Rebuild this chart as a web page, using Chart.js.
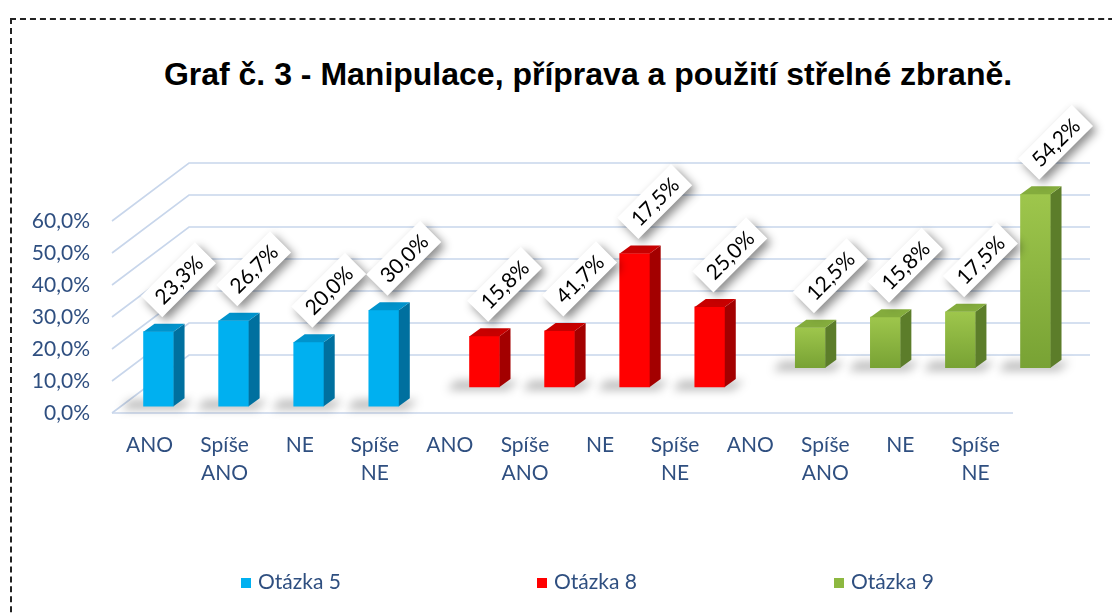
<!DOCTYPE html>
<html>
<head>
<meta charset="utf-8">
<title>Graf č. 3</title>
<script src="https://cdn.jsdelivr.net/npm/chart.js@4.4.1/dist/chart.umd.min.js"></script>
<style>
  html, body { margin: 0; padding: 0; background: #fff; overflow: hidden; }
  #wrap { position: relative; width: 1112px; height: 613px; overflow: hidden; }
  #frame { position: absolute; left: 10px; top: 18px; width: 1200px; height: 700px; border: 2px dashed #222; }
  #title { position: absolute; left: 0; width: 1176px; top: 56px; line-height: 32px; text-align: center;
           font: bold 32px "Liberation Sans", Arial, sans-serif; color: #000; white-space: nowrap; }
  canvas { position: absolute; left: 0; top: 0; }
  .leg { position: absolute; top: 568px; line-height: 24px; font: 21px Lato, sans-serif; color: #2F4F80; white-space: nowrap; }
  .leg i { display: inline-block; width: 10px; height: 10px; margin-right: 7px; vertical-align: 1px; }
</style>
</head>
<body>
<div id="wrap">
  <div id="frame"></div>
  <div id="title">Graf č. 3 - Manipulace, příprava a použití střelné zbraně.</div>
  <canvas id="chart3" width="1112" height="613"></canvas>
</div>
<script>
// data
const categories = ['ANO', 'Spíše ANO', 'NE', 'Spíše NE', 'ANO', 'Spíše ANO', 'NE', 'Spíše NE', 'ANO', 'Spíše ANO', 'NE', 'Spíše NE'];
const seriesNames = ['Otázka 5', 'Otázka 8', 'Otázka 9'];
const q5Values = [23.3, 26.7, 20.0, 30.0];
const q8Values = [15.8, 17.5, 41.7, 25.0];
const q9Values = [12.5, 15.8, 17.5, 54.2];
// data labels as printed on the chart
const q5Labels = ['23,3%', '26,7%', '20,0%', '30,0%'];
const q8Labels = ['15,8%', '41,7%', '17,5%', '25,0%'];
const q9Labels = ['12,5%', '15,8%', '17,5%', '54,2%'];
const yTickValues = [0, 10, 20, 30, 40, 50, 60];

const seriesValues = [q5Values, q8Values, q9Values];
const seriesLabels = [q5Labels, q8Labels, q9Labels];

// look & 3d geometry
const TICK_COLOR = '#2F4F80';
const PLOT_W = 901, PLOT_H = 192;          // front plane of the plot
const WALL_DX = 77, WALL_DY = 58;          // depth of the back wall
const depthFrac = [0.117, 0.45, 0.78];     // where each series stands in depth
const BAR_DX = 11, BAR_DY = 8;             // bar's own depth
const binW = PLOT_W / categories.length;
const pxPerUnit = PLOT_H / (yTickValues[yTickValues.length - 1] - yTickValues[0]);

const styles = [
  { front: '#00B0F0', side: '#00709F', top: '#0093CC' },
  { front: '#FF0000', side: '#A30000', top: '#C80000' },
  { front: '#8DB840', side: '#5C7D2A', top: '#84AC3D' }
];
const axisIds = [['xb', 'yb'], ['xr', 'yr'], ['xg', 'yg']];

function greenFront(c) {
  const chart = c.chart;
  if (!chart.chartArea || !c.parsed) return styles[2].front;
  const ys = chart.scales.yg;
  const top = ys.getPixelForValue(c.parsed.y);
  const base = ys.getPixelForValue(0);
  const g = chart.ctx.createLinearGradient(0, top, 0, base);
  g.addColorStop(0, '#9EC64C');
  g.addColorStop(1, '#78A234');
  return g;
}

const datasets = seriesValues.map((vals, s) => ({
  label: seriesNames[s],
  data: vals.map((v, i) => ({ x: s * 4 + i, y: v })),
  xAxisID: axisIds[s][0],
  yAxisID: axisIds[s][1],
  backgroundColor: s === 2 ? greenFront : styles[s].front,
  borderWidth: 0,
  barThickness: 30,
  grouped: false,
  clip: false
}));

// hidden scales that push each series back into depth
const scales = {
  x: {
    type: 'category',
    labels: categories,
    offset: true,
    grid: { display: false, drawTicks: false },
    border: { display: false },
    ticks: {
      autoSkip: false, maxRotation: 0, padding: 18, color: TICK_COLOR,
      font: { family: 'Lato', size: 21, lineHeight: 1.333 },
      callback: function (v) { return this.getLabelForValue(v).split(' '); }
    },
    afterFit: s => { s.height = 80; }
  },
  y: {
    type: 'linear',
    min: yTickValues[0],
    max: yTickValues[yTickValues.length - 1],
    grid: { display: false, drawTicks: false },
    border: { display: false },
    afterBuildTicks: s => { s.ticks = yTickValues.map(v => ({ value: v })); },
    ticks: {
      padding: 22, color: TICK_COLOR,
      font: { family: 'Lato', size: 21 },
      callback: v => v.toFixed(1).replace('.', ',') + '%'
    },
    afterFit: s => { s.width = 92; }
  }
};
depthFrac.forEach((f, s) => {
  const xMin = -0.5 - (f * WALL_DX) / binW;
  const yMin = -(f * WALL_DY) / pxPerUnit;
  scales[axisIds[s][0]] = { type: 'linear', display: false, offset: false, min: xMin, max: xMin + categories.length };
  scales[axisIds[s][1]] = { type: 'linear', display: false, min: yMin, max: yMin + scales.y.max - scales.y.min };
});

const depthPlugin = {
  id: 'depth3d',
  beforeDatasetsDraw(chart) {
    const { ctx, chartArea: a, scales: { y } } = chart;
    ctx.save();
    ctx.strokeStyle = '#C8D6EB';
    ctx.lineWidth = 1.6;
    y.ticks.forEach(t => {
      const py = y.getPixelForValue(t.value);
      ctx.beginPath();
      ctx.moveTo(a.left, py);
      ctx.lineTo(a.left + WALL_DX, py - WALL_DY);
      ctx.lineTo(a.right + WALL_DX, py - WALL_DY);
      ctx.stroke();
    });
    ctx.beginPath();
    ctx.moveTo(a.left, a.bottom);
    ctx.lineTo(a.right, a.bottom);
    ctx.stroke();
    ctx.restore();
  },
  beforeDatasetDraw(chart, args) {
    // soft shadow on the floor
    const ctx = chart.ctx;
    ctx.save();
    ctx.filter = 'blur(5px)';
    ctx.fillStyle = 'rgba(0,0,0,0.28)';
    args.meta.data.forEach(el => {
      const { x, base, width } = el.getProps(['x', 'base', 'width'], true);
      ctx.beginPath();
      ctx.moveTo(x - width / 2 - 22, base + 3);
      ctx.lineTo(x + width / 2 + 8, base + 3);
      ctx.lineTo(x + width / 2 + BAR_DX + 8, base - BAR_DY + 2);
      ctx.lineTo(x - width / 2 - 14, base - BAR_DY + 2);
      ctx.closePath();
      ctx.fill();
    });
    ctx.restore();
  },
  afterDatasetDraw(chart, args) {
    const ctx = chart.ctx;
    const st = styles[args.index];
    ctx.save();
    args.meta.data.forEach(el => {
      const { x, y, base, width } = el.getProps(['x', 'y', 'base', 'width'], true);
      const l = x - width / 2, r = x + width / 2;
      // side
      ctx.fillStyle = st.side;
      ctx.beginPath();
      ctx.moveTo(r, y);
      ctx.lineTo(r + BAR_DX, y - BAR_DY);
      ctx.lineTo(r + BAR_DX, base - BAR_DY);
      ctx.lineTo(r, base);
      ctx.closePath();
      ctx.fill();
      // top
      ctx.fillStyle = st.top;
      ctx.beginPath();
      ctx.moveTo(l, y);
      ctx.lineTo(l + BAR_DX, y - BAR_DY);
      ctx.lineTo(r + BAR_DX, y - BAR_DY);
      ctx.lineTo(r, y);
      ctx.closePath();
      ctx.fill();
    });
    ctx.restore();
  },
  afterDatasetsDraw(chart) {
    const ctx = chart.ctx;
    ctx.save();
    ctx.font = '21px Lato';
    ctx.textAlign = 'center';
    ctx.textBaseline = 'middle';
    seriesLabels.forEach((labels, s) => {
      chart.getDatasetMeta(s).data.forEach((el, i) => {
        const { x, y } = el.getProps(['x', 'y'], true);
        const txt = labels[i];
        const w = ctx.measureText(txt).width + 18, h = 30;
        ctx.save();
        ctx.translate(x + 20, y - 52);
        ctx.rotate(-Math.PI / 4);
        ctx.shadowColor = 'rgba(0,0,0,0.45)';
        ctx.shadowBlur = 10;
        ctx.shadowOffsetX = 4;
        ctx.shadowOffsetY = 4;
        ctx.fillStyle = '#fff';
        ctx.fillRect(-w / 2, -h / 2, w, h);
        ctx.shadowColor = 'transparent';
        ctx.fillStyle = '#000';
        ctx.fillText(txt, 0, 1);
        ctx.restore();
      });
    });
    ctx.restore();
  }
};

const chart3 = new Chart(document.getElementById('chart3'), {
  type: 'bar',
  data: { datasets },
  options: {
    responsive: false,
    animation: false,
    layout: { padding: { left: 20, right: 99, top: 221, bottom: 120 } },
    plugins: { legend: { display: false }, tooltip: { enabled: false } },
    scales
  },
  plugins: [depthPlugin]
});

// legend
const legendLeft = [241, 537, 834];
seriesNames.forEach((name, s) => {
  const d = document.createElement('div');
  d.className = 'leg';
  d.style.left = legendLeft[s] + 'px';
  const sw = document.createElement('i');
  sw.style.background = styles[s].front;
  d.appendChild(sw);
  d.appendChild(document.createTextNode(name));
  document.getElementById('wrap').appendChild(d);
});
</script>
</body>
</html>
